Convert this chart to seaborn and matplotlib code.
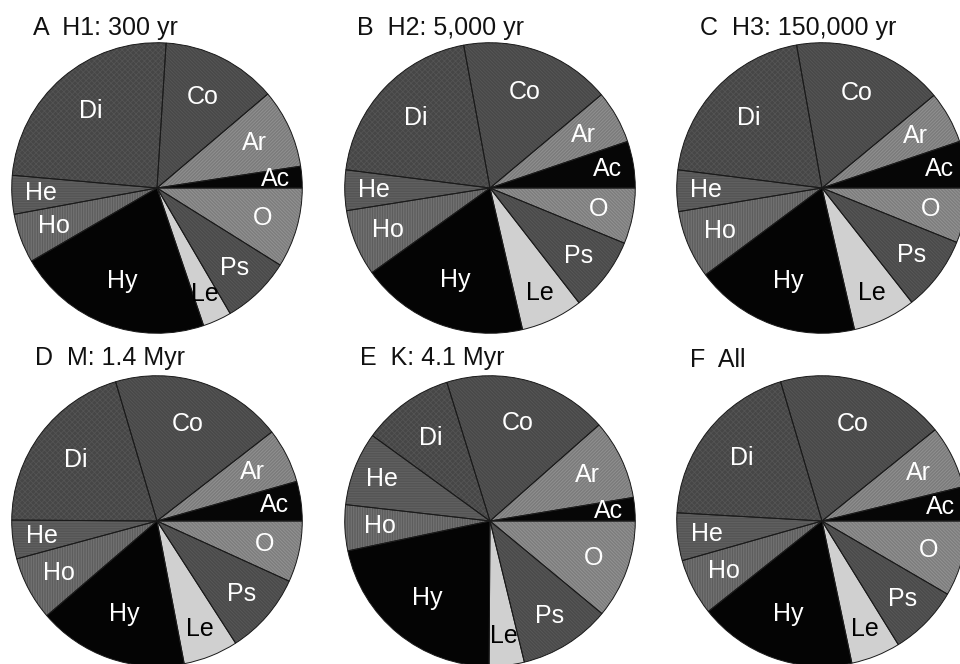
import math
import matplotlib
matplotlib.use("Agg")
import matplotlib.pyplot as plt
import seaborn as sns

# Share (%) of each group, listed counter-clockwise from the 3 o'clock position
groups = ["Ac", "Ar", "Co", "Di", "He", "Ho", "Hy", "Le", "Ps", "O"]
h1_300yr = [2.4, 8.8, 12.8, 24.6, 4.3, 5.5, 21.8, 3.2, 7.7, 8.9]
h2_5000yr = [5.2, 5.9, 16.8, 20.1, 4.5, 7.4, 18.7, 6.9, 8.3, 6.2]
h3_150000yr = [5.2, 5.8, 16.8, 20.2, 4.6, 7.6, 18.4, 7.0, 8.3, 6.1]
m_1_4myr = [4.4, 6.1, 19.1, 20.3, 4.3, 7.1, 16.7, 6.1, 9.1, 6.8]
k_4_1myr = [2.6, 8.9, 18.3, 10.2, 8.2, 5.1, 21.6, 3.9, 10.2, 11.0]
all_sites = [3.8, 7.0, 18.8, 19.5, 5.3, 6.3, 17.6, 5.5, 7.8, 8.4]
panel_titles = ["A  H1: 300 yr", "B  H2: 5,000 yr", "C  H3: 150,000 yr",
                "D  M: 1.4 Myr", "E  K: 4.1 Myr", "F  All"]
panel_values = [h1_300yr, h2_5000yr, h3_150000yr, m_1_4myr, k_4_1myr, all_sites]

# Grey-scale fills with fine texture: (fill, hatch, hatch colour, label colour, label radius)
wedge_style = {
    "Ac": ("#060606", None, "#060606", "white", 0.82),
    "Ar": ("#7b7b7b", "/" * 10, "#939393", "white", 0.74),
    "Co": ("#484848", "\\" * 10, "#575757", "white", 0.70),
    "Di": ("#464646", "x" * 6, "#545454", "white", 0.70),
    "He": ("#505050", "-" * 10, "#646464", "white", 0.80),
    "Ho": ("#777777", "|" * 10, "#585858", "white", 0.76),
    "Hy": ("#040404", None, "#040404", "white", 0.68),
    "Le": ("#d0d0d0", None, "#d0d0d0", "black", 0.80),
    "Ps": ("#4a4a4a", "\\" * 10, "#595959", "white", 0.77),
    "O":  ("#7d7d7d", "\\" * 10, "#959595", "white", 0.76),
}

sns.set_theme(style="white")
plt.rcParams["font.family"] = ["Liberation Sans", "DejaVu Sans"]
plt.rcParams["hatch.linewidth"] = 0.6

W, H = 960, 664
fig = plt.figure(figsize=(W / 100, H / 100), dpi=100)
fig.patch.set_facecolor("white")

centers = [(157, 188), (490, 188), (822, 188), (157, 521), (490, 521), (822, 521)]
title_pos = [(33, 35), (357, 35), (700, 35), (35, 365), (360, 365), (690, 367)]
R = 146

for values, title, (cx, cy), (tx, ty) in zip(panel_values, panel_titles, centers, title_pos):
    ax = fig.add_axes([(cx - R) / W, 1 - (cy + R) / H, 2 * R / W, 2 * R / H])

    fills = [wedge_style[g][0] for g in groups]
    # textured wedges (hatch colour follows the edge colour)
    wedges, _ = ax.pie(values, startangle=0, counterclock=True, radius=1.0,
                       colors=fills, wedgeprops=dict(linewidth=0))
    for w, g in zip(wedges, groups):
        fc, hatch, hc, _, _ = wedge_style[g]
        w.set_edgecolor(hc)
        w.set_linewidth(0)
        if hatch:
            w.set_hatch(hatch)
    # thin dark outlines on top
    ax.pie(values, startangle=0, counterclock=True, radius=1.0,
           colors=["none"] * len(values),
           wedgeprops=dict(linewidth=0.7, edgecolor="#1a1a1a", fill=False))

    # labels at the middle angle of each wedge
    for w, g in zip(wedges, groups):
        _, _, _, tc, rr = wedge_style[g]
        mid = math.radians((w.theta1 + w.theta2) / 2)
        ax.text(rr * math.cos(mid), rr * math.sin(mid), g, color=tc,
                fontsize=18, ha="center", va="center")

    ax.set_xlim(-1.005, 1.005)
    ax.set_ylim(-1.005, 1.005)
    ax.set_aspect("equal")
    ax.axis("off")

    fig.text(tx / W, 1 - ty / H, title, fontsize=18, ha="left", va="baseline",
             color="#111111")

fig.savefig("out.png", dpi=100, facecolor="white")
